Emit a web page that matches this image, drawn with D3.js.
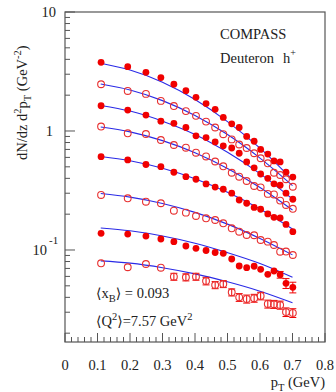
<!DOCTYPE html>
<html><head><meta charset="utf-8">
<script src="https://cdn.jsdelivr.net/npm/d3@7"></script>
<style>html,body{margin:0;padding:0;background:#fff;}svg{display:block;}</style>
</head><body>
<svg id="chart" width="336" height="392"></svg>
<script>
// ---- data ----
const pT = [0.111, 0.193, 0.249, 0.295, 0.335, 0.372, 0.403, 0.434, 0.462, 0.487, 0.513, 0.536, 0.559, 0.582, 0.602, 0.624, 0.643, 0.662, 0.680, 0.701];
const s1 = [3.78, 3.47, 3.11, 2.81, 2.47, 2.18, 1.92, 1.70, 1.52, 1.30, 1.15, 1.07, 0.90, 0.82, 0.70, 0.64, 0.56, 0.55, 0.45, 0.41];
const s2 = [2.47, 2.17, 2.05, 1.79, 1.62, 1.47, 1.34, 1.20, 1.07, 0.94, 0.85, 0.77, 0.72, 0.65, 0.59, 0.535, 0.446, 0.427, 0.393, 0.34];
const s3 = [1.63, 1.50, 1.36, 1.21, 1.16, 1.07, 0.91, 0.88, 0.81, 0.75, 0.72, 0.65, 0.55, 0.49, 0.435, 0.40, 0.36, 0.35, 0.30, 0.267];
const s4 = [1.09, 0.956, 0.944, 0.84, 0.763, 0.724, 0.657, 0.611, 0.554, 0.505, 0.446, 0.413, 0.38, 0.345, 0.336, 0.296, 0.293, 0.26, 0.239, 0.222];
const s5 = [0.608, 0.571, 0.523, 0.501, 0.45, 0.413, 0.393, 0.359, 0.338, 0.324, 0.30, 0.263, 0.247, 0.228, 0.22, 0.201, 0.188, 0.186, 0.164, 0.1425];
const s6 = [0.29, 0.272, 0.2545, 0.247, 0.214, 0.206, 0.193, 0.1847, 0.1787, 0.1677, 0.1522, 0.1425, 0.1337, 0.133, 0.1213, 0.1175, 0.1102, 0.0968, 0.097, 0.0908];
const s7 = [0.138, 0.1362, 0.131, 0.1237, 0.1175, 0.108, 0.1033, 0.099, 0.0953, 0.0938, 0.084, 0.0734, 0.071, 0.073, 0.0688, 0.0625, 0.0666, 0.062, 0.0525, 0.0486];
const s8 = [0.0773, 0.0716, 0.0763, 0.071, 0.0597, 0.059, 0.0597, 0.0549, 0.0508, 0.0518, 0.0441, 0.04, 0.0388, 0.0394, 0.0411, 0.0352, 0.035, 0.0345, 0.0301, 0.0296];
const e7 = [0, 0, 0, 0, 0, 0, 0, 0, 0, 0, 0, 0, 0, 0, 0, 0, 0, 0.004, 0.005, 0.005];
const e8 = [0, 0, 0, 0, 0.004, 0.004, 0.004, 0.004, 0.0035, 0.0035, 0.003, 0.003, 0.003, 0.003, 0.003, 0.0027, 0.0027, 0.0027, 0.0025, 0.0025];
const filled = [true, false, true, false, true, false, true, false];

const curvePT = [0.11, 0.2, 0.3, 0.4, 0.5, 0.6, 0.7];
const c1 = [3.71, 3.25, 2.57, 1.84, 1.20, 0.717, 0.388];
const c2 = [2.48, 2.21, 1.80, 1.35, 0.933, 0.592, 0.348];
const c3 = [1.64, 1.47, 1.21, 0.935, 0.662, 0.438, 0.268];
const c4 = [1.08, 0.983, 0.83, 0.657, 0.485, 0.335, 0.217];
const c5 = [0.61, 0.563, 0.486, 0.397, 0.305, 0.221, 0.150];
const c6 = [0.298, 0.278, 0.246, 0.207, 0.165, 0.125, 0.091];
const c7 = [0.153, 0.145, 0.131, 0.114, 0.095, 0.077, 0.059];
const c8 = [0.081, 0.0775, 0.071, 0.063, 0.054, 0.045, 0.036];

const xTicks = [0, 0.1, 0.2, 0.3, 0.4, 0.5, 0.6, 0.7, 0.8];
const yMajor = [10, 1, 0.1];

const series = [s1, s2, s3, s4, s5, s6, s7, s8];
const errs = [null, null, null, null, null, null, e7, e8];
const curves = [c1, c2, c3, c4, c5, c6, c7, c8];

// ---- layout ----
const L = 65, R = 325, T = 12, B = 342;
const x = d3.scaleLinear().domain([0, 0.8]).range([L, R]);
const y = d3.scaleLog().domain([0.01686, 10]).range([B, T]);
const svg = d3.select("#chart");
const font = "'Liberation Serif','Times New Roman',serif";
const axisCol = "#555";
const textCol = "#222";
const red = "#f00000";

// frame
svg.append("rect").attr("x", L).attr("y", T).attr("width", R - L).attr("height", B - T)
  .attr("fill", "none").attr("stroke", axisCol).attr("stroke-width", 1.2);

// x axis ticks (inside, upward)
const xMinor = d3.range(0, 0.8001, 0.02);
svg.append("g").selectAll("line").data(xMinor).join("line")
  .attr("x1", d => x(d)).attr("x2", d => x(d))
  .attr("y1", B).attr("y2", d => (Math.abs(d * 10 - Math.round(d * 10)) < 1e-6) ? B - 9 : B - 5)
  .attr("stroke", axisCol).attr("stroke-width", 1);
svg.append("g").selectAll("text").data(xTicks).join("text")
  .attr("x", d => x(d)).attr("y", 370).attr("text-anchor", "middle")
  .attr("font-family", font).attr("font-size", 14.5).attr("fill", textCol)
  .text(d => d === 0 ? "0" : d.toFixed(1));

// y axis ticks (inside, rightward)
const yTickVals = y.ticks();
svg.append("g").selectAll("line").data(yTickVals.filter(v => v >= 0.01686 && v <= 10)).join("line")
  .attr("y1", d => y(d)).attr("y2", d => y(d))
  .attr("x1", L).attr("x2", d => yMajor.some(m => Math.abs(m - d) / m < 1e-6) ? L + 10 : L + 5)
  .attr("stroke", axisCol).attr("stroke-width", 1);

// y labels
const yl = svg.append("g").attr("font-family", font).attr("font-size", 14.5).attr("fill", textCol);
yl.append("text").attr("x", 56).attr("y", y(10) + 5).attr("text-anchor", "end").text("10");
yl.append("text").attr("x", 53).attr("y", y(1) + 5).attr("text-anchor", "end").text("1");
yl.append("text").attr("x", 47).attr("y", y(0.1) + 5).attr("text-anchor", "end").text("10");
yl.append("text").attr("x", 49).attr("y", y(0.1) - 6).attr("font-size", 11).text("-1");

// curves
const line = d3.line().x(d => x(d[0])).y(d => y(d[1])).curve(d3.curveMonotoneX);
curves.forEach(c => {
  svg.append("path").attr("d", line(curvePT.map((p, i) => [p, c[i]])))
    .attr("fill", "none").attr("stroke", "#2a2ae6").attr("stroke-width", 1.1);
});

// markers + error bars
series.forEach((s, k) => {
  const g = svg.append("g");
  const e = errs[k];
  if (e) {
    const pts = pT.map((p, i) => [p, s[i], e[i]]).filter(d => d[2] > 0);
    pts.forEach(d => {
      const y1 = y(d[1] + d[2]), y2 = y(d[1] - d[2]), cx = x(d[0]);
      g.append("line").attr("x1", cx).attr("x2", cx).attr("y1", y1).attr("y2", y2).attr("stroke", red).attr("stroke-width", 1);
      g.append("line").attr("x1", cx - 3.5).attr("x2", cx + 3.5).attr("y1", y1).attr("y2", y1).attr("stroke", red).attr("stroke-width", 1);
      g.append("line").attr("x1", cx - 3.5).attr("x2", cx + 3.5).attr("y1", y2).attr("y2", y2).attr("stroke", red).attr("stroke-width", 1);
    });
  }
  g.selectAll("circle").data(pT.map((p, i) => [p, s[i]])).join("circle")
    .attr("cx", d => x(d[0])).attr("cy", d => y(d[1]))
    .attr("r", filled[k] ? 3.4 : 3.4)
    .attr("fill", filled[k] ? red : "none")
    .attr("stroke", filled[k] ? "none" : "#e83030").attr("stroke-width", 1.1);
});

// texts
const t = svg.append("g").attr("font-family", font).attr("fill", textCol).attr("font-size", 14.5);
t.append("text").attr("x", 220).attr("y", 39).text("COMPASS");
t.append("text").attr("x", 220).attr("y", 63).text("Deuteron");
const hp = t.append("text").attr("x", 283).attr("y", 63);
hp.append("tspan").text("h");
hp.append("tspan").attr("dy", -7).attr("font-size", 10).text("+");

const bf = "'DejaVu Serif',serif";
const xb = t.append("text").attr("x", 96).attr("y", 298);
xb.append("tspan").attr("font-family", bf).attr("font-size", 14).text("\u27E8");
xb.append("tspan").text("x");
xb.append("tspan").attr("dy", 4).attr("font-size", 10.5).text("B");
xb.append("tspan").attr("dy", -4).attr("font-family", bf).attr("font-size", 14).text("\u27E9");
xb.append("tspan").text(" = 0.093");

const q2 = t.append("text").attr("x", 96).attr("y", 326);
q2.append("tspan").attr("font-family", bf).attr("font-size", 14).text("\u27E8");
q2.append("tspan").text("Q");
q2.append("tspan").attr("dy", -6).attr("font-size", 10.5).text("2");
q2.append("tspan").attr("dy", 6).attr("font-family", bf).attr("font-size", 14).text("\u27E9");
q2.append("tspan").text("=7.57 GeV");
q2.append("tspan").attr("dy", -6).attr("font-size", 10.5).text("2");

// x title
const xt = t.append("text").attr("x", 325).attr("y", 387).attr("text-anchor", "end");
xt.append("tspan").text("p");
xt.append("tspan").attr("dy", 4).attr("font-size", 10.5).text("T");
xt.append("tspan").attr("dy", -4).text(" (GeV)");

// y title
const ytl = t.append("text").attr("transform", "translate(27,160) rotate(-90)").attr("text-anchor", "start");
ytl.append("tspan").text("dN/dz d");
ytl.append("tspan").attr("dy", -6).attr("font-size", 10.5).text("2");
ytl.append("tspan").attr("dy", 6).text("p");
ytl.append("tspan").attr("dy", 4).attr("font-size", 10.5).text("T");
ytl.append("tspan").attr("dy", -4).text(" (GeV");
ytl.append("tspan").attr("dy", -6).attr("font-size", 10.5).text("-2");
ytl.append("tspan").attr("dy", 6).text(")");
</script>
</body></html>
